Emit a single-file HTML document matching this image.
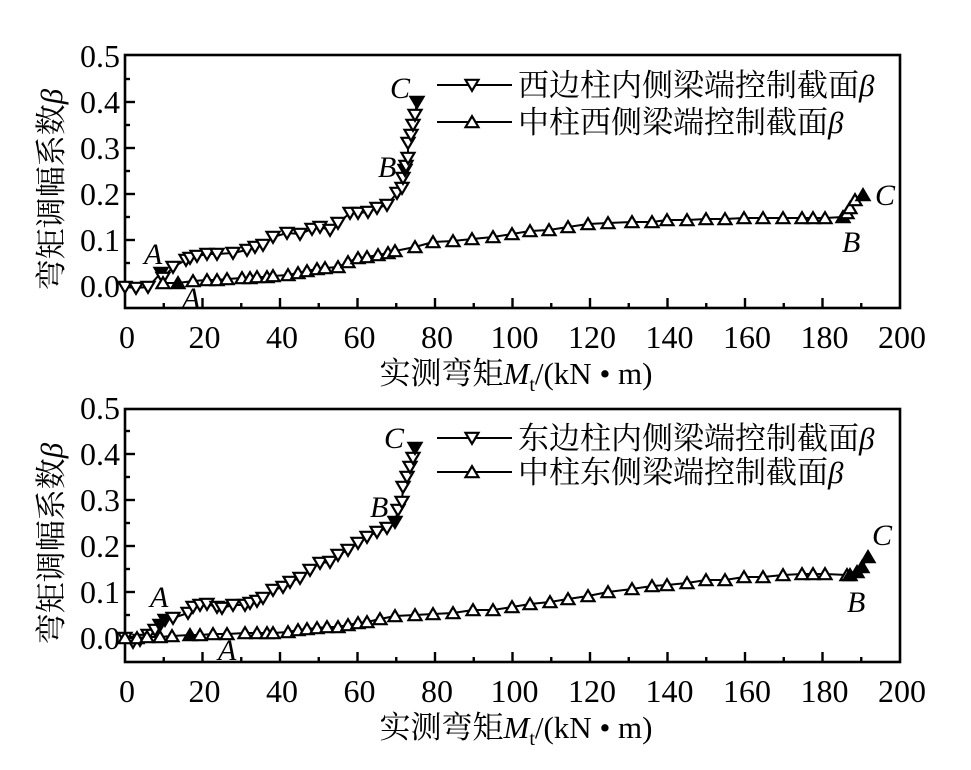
<!DOCTYPE html><html><head><meta charset="utf-8"><style>body{margin:0;background:#fff}svg{display:block}
text{font-family:"Liberation Serif","Noto Serif CJK SC",serif;fill:#000}</style></head><body>
<svg id="s" width="971" height="770" xmlns="http://www.w3.org/2000/svg"></svg>
<script>
const S=document.getElementById('s');let h='';
function ax(top,bot,y0,dy){
 const L=125,R=900;
 h+=`<rect x="${L}" y="${top}" width="${R-L}" height="${bot-top}" fill="none" stroke="#000" stroke-width="2.6"/>`;
 for(let v=0;v<=200;v+=10){const x=L+v*3.875;const len=v%20?5:10;if(v>0&&v<200)h+=`<line x1="${x}" y1="${bot}" x2="${x}" y2="${bot-len}" stroke="#000" stroke-width="2.4"/>`;
  if(v%20==0)h+=`<text x="${x+2}" y="${bot+40}" font-size="32" text-anchor="middle">${v}</text>`;}
 for(let i=0;i<=10;i++){const y=y0-i*dy/2;const len=i%2?5:10;if(y>top+2)h+=`<line x1="${L}" y1="${y}" x2="${L+len}" y2="${y}" stroke="#000" stroke-width="2.4"/>`;
  if(i%2==0)h+=`<text x="${L-5}" y="${y+11}" font-size="32" text-anchor="end">${(i/20).toFixed(1)}</text>`;}
 h+=`<text x="516" y="${bot+76}" font-size="31" text-anchor="middle">实测弯矩<tspan font-style="italic">M</tspan><tspan font-size="20" dy="7">t</tspan><tspan dy="-7">/(kN • m)</tspan></text>`;
 const cy=(top+bot)/2+8;
 h+=`<text transform="translate(62,${cy}) rotate(-90)" font-size="31" text-anchor="middle">弯矩调幅系数<tspan font-style="italic">β</tspan></text>`;
}
function tri(x,y,down,fill){const s=6.5;const p=down?`${x-s},${y-s*0.8} ${x+s},${y-s*0.8} ${x},${y+s*0.9}`:`${x-s},${y+s*0.8} ${x+s},${y+s*0.8} ${x},${y-s*0.9}`;
 return `<polygon points="${p}" fill="${fill?'#000':'#fff'}" stroke="#000" stroke-width="2.2"/>`;}
function ser(pts,down,filled){h+=`<polyline points="${pts.map(p=>p[0]+','+p[1]).join(' ')}" fill="none" stroke="#000" stroke-width="2"/>`;
 pts.forEach((p,i)=>{h+=tri(p[0],p[1],down,filled.includes(i)||p[2]);});}
function lab(t,x,y){h+=`<text x="${x}" y="${y}" font-size="30" font-style="italic">${t}</text>`;}
function leg(y,down,t){h+=`<line x1="437" y1="${y}" x2="512" y2="${y}" stroke="#000" stroke-width="2"/>`+tri(472,y,down,false)+`<text x="518" y="${y+11}" font-size="31">${t}<tspan font-style="italic">β</tspan></text>`;}
ax(55,308,286,46);
ser([[125,287],[136,288],[148,287],[161,273,1],[163,278],[173,267],[186,260],[190,258],[197,256],[207,254],[217,254],[233,253],[247,250],[255,247],[263,245],[273,237],[287,233],[300,234],[312,229],[320,227],[330,230],[338,223],[350,213],[358,213],[368,212],[377,208],[387,205],[397,193],[402,188],[403,178],[405,170,1],[406,166],[408,158],[408,143],[411,135],[413,125],[415,115],[417,102,1]],true,[]);
ser([[163,283],[178,283,1],[193,281],[207,280],[217,280],[227,279],[242,278],[250,278],[257,277],[267,277],[273,276],[288,275],[298,273],[307,271],[317,269],[325,268],[338,267],[348,262],[358,258],[367,257],[378,255],[388,253],[395,251],[415,247],[433,242],[453,241],[472,239],[493,237],[512,234],[530,231],[549,230],[568,227],[588,224],[608,223],[632,222],[652,222],[667,220],[687,220],[706,219],[725,219],[744,218],[763,218],[783,218],[802,218],[813,218],[825,218],[843,217,1],[847,213],[850,208],[855,200],[863,195,1]],false,[]);
lab('C',390,98);lab('B',378,177);lab('A',144,264);lab('A',182,308);lab('C',875,205);lab('B',842,252);
leg(85,true,'西边柱内侧梁端控制截面');leg(122,false,'中柱西侧梁端控制截面');
ax(409,662,638,46);
ser([[125,638],[133,642],[140,640],[148,635],[155,630],[160,625,1],[165,620,1],[173,618],[188,613],[193,607],[200,605],[207,604],[217,607],[222,608],[233,605],[245,605],[250,603],[257,601],[263,598],[273,590],[283,587],[290,582],[300,578],[310,570],[320,563],[330,562],[338,555],[348,550],[358,543],[367,537],[377,532],[387,528],[395,522,1],[398,510],[402,502],[403,487],[407,477],[410,467],[413,458],[415,448,1]],true,[]);
ser([[125,638],[137,638],[147,637],[160,637],[172,636],[190,635,1],[200,635],[213,634],[227,634],[245,633],[257,633],[267,633],[273,633],[288,632],[298,630],[307,629],[317,628],[327,627],[338,627],[348,625],[358,623],[367,622],[380,619],[395,616],[415,615],[433,614],[453,613],[473,610],[493,610],[512,607],[530,604],[550,602],[568,599],[588,596],[608,592],[632,589],[652,586],[667,585],[687,583],[706,580],[725,580],[744,577],[763,577],[783,575],[802,574],[813,574],[825,574],[847,575],[850,575,1],[857,572,1],[862,567,1],[868,557,1]],false,[]);
lab('C',384,448);lab('B',370,517);lab('A',150,607);lab('A',218,660);lab('C',872,545);lab('B',847,612);
leg(438,true,'东边柱内侧梁端控制截面');leg(472,false,'中柱东侧梁端控制截面');
S.innerHTML=h;
</script></body></html>
